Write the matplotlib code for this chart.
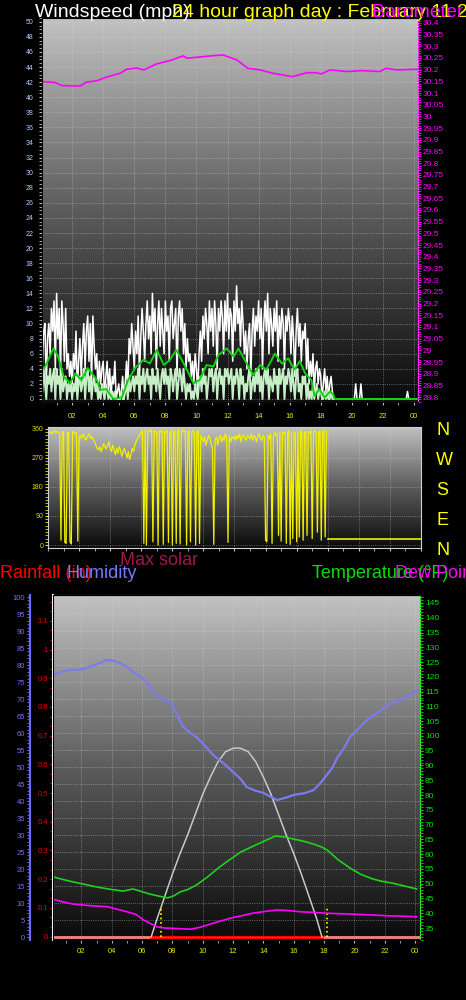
import numpy as np
import matplotlib.pyplot as plt
from matplotlib.ticker import MultipleLocator, FormatStrFormatter
from matplotlib.colors import LinearSegmentedColormap

plt.rcParams['font.family'] = ['Liberation Sans', 'DejaVu Sans']

# ---- data ----
hour_labels = ['02', '04', '06', '08', '10', '12', '14', '16', '18', '20', '22', '00']
hour_ticks = [2, 4, 6, 8, 10, 12, 14, 16, 18, 20, 22, 24]

# wind gusts (mph), 5 minute samples, one row per hour
gust = [
    10, 5, 9, 10, 2, 8, 10, 6, 12, 9, 13, 4,
    14, 8, 12, 3, 13, 10, 5, 12, 4, 6, 3, 5,
    2, 6, 4, 9, 1, 5, 8, 3, 7, 10, 4, 9,
    11, 5, 10, 2, 11, 7, 4, 6, 1, 5, 2, 4,
    5, 0, 3, 5, 1, 4, 0, 3, 2, 5, 0, 1,
    2, 0, 1, 3, 0, 2, 5, 1, 8, 6, 10, 7,
    4, 9, 6, 11, 3, 8, 12, 9, 5, 10, 13, 8,
    11, 6, 14, 9, 12, 4, 10, 13, 7, 12, 9, 6,
    13, 9, 11, 5, 12, 13, 8, 10, 12, 3, 11, 13,
    9, 12, 6, 10, 4, 8, 5, 6, 3, 5, 2, 6,
    4, 1, 6, 9, 5, 11, 8, 12, 10, 6, 13, 9,
    12, 7, 13, 10, 4, 12, 9, 13, 11, 6, 13, 9,
    14, 8, 12, 11, 5, 13, 9, 15, 10, 12, 7, 13,
    10, 6, 9, 4, 8, 10, 3, 9, 12, 7, 11, 9,
    13, 8, 12, 4, 10, 13, 9, 14, 6, 12, 10, 7,
    12, 9, 13, 5, 11, 8, 12, 10, 4, 11, 9, 12,
    10, 6, 11, 8, 3, 9, 12, 7, 10, 5, 9, 8,
    10, 4, 8, 2, 5, 3, 6, 1, 4, 5, 2, 4,
    3, 0, 2, 4, 1, 3, 0, 2, 3, 1, 0, 0,
    0, 0, 0, 0, 0, 0, 0, 0, 0, 0, 0, 0,
    0, 0, 0, 2, 0, 0, 0, 2, 0, 0, 0, 0,
    0, 0, 0, 0, 0, 0, 0, 0, 0, 0, 0, 0,
    0, 0, 0, 0, 0, 0, 0, 0, 0, 0, 0, 0,
    0, 0, 0, 0, 0, 0, 0, 1, 0, 0, 0, 0,
]
# average wind (mph), same samples
avg = [
    3, 1, 4, 2, 0, 3, 2, 4, 1, 3, 4, 0,
    4, 2, 3, 0, 4, 1, 2, 3, 0, 2, 1, 2,
    0, 2, 1, 3, 0, 2, 3, 1, 2, 4, 0, 3,
    4, 1, 3, 0, 2, 3, 1, 2, 0, 1, 0, 2,
    1, 0, 2, 1, 0, 1, 0, 1, 0, 1, 0, 0,
    0, 0, 1, 0, 0, 1, 2, 0, 3, 1, 2, 3,
    1, 3, 2, 4, 0, 3, 2, 4, 1, 3, 4, 2,
    3, 0, 4, 2, 3, 1, 4, 2, 0, 3, 4, 2,
    4, 2, 3, 0, 4, 3, 1, 3, 4, 0, 2, 4,
    3, 1, 4, 2, 0, 2, 1, 2, 0, 1, 0, 2,
    1, 0, 2, 3, 1, 4, 2, 3, 0, 2, 4, 3,
    4, 1, 3, 4, 0, 3, 4, 2, 3, 0, 4, 3,
    4, 2, 3, 4, 0, 3, 2, 4, 3, 0, 4, 2,
    3, 0, 2, 1, 3, 4, 0, 2, 3, 1, 4, 2,
    4, 1, 3, 0, 3, 4, 2, 4, 0, 3, 2, 1,
    4, 2, 3, 0, 4, 2, 3, 4, 0, 3, 2, 4,
    3, 1, 4, 2, 0, 3, 4, 1, 2, 0, 3, 2,
    3, 0, 2, 0, 1, 0, 2, 0, 1, 2, 0, 1,
    1, 0, 0, 1, 0, 1, 0, 0, 1, 0, 0, 0,
    0, 0, 0, 0, 0, 0, 0, 0, 0, 0, 0, 0,
    0, 0, 0, 0, 0, 0, 0, 0, 0, 0, 0, 0,
    0, 0, 0, 0, 0, 0, 0, 0, 0, 0, 0, 0,
    0, 0, 0, 0, 0, 0, 0, 0, 0, 0, 0, 0,
    0, 0, 0, 0, 0, 0, 0, 0, 0, 0, 0, 0,
]
# smoothed wind line
smooth_h = [0.1, 0.26, 0.8, 1.1, 1.45, 1.87, 2.2, 2.6, 3.0, 3.6, 3.8, 4.2, 4.65, 5.2,
            5.6, 6.05, 6.6, 7.0, 7.45, 7.9, 8.3, 8.7, 9.05, 9.5, 9.8, 10.2, 10.65,
            11.1, 11.4, 11.95, 12.4, 12.7, 13.1, 13.65, 14.1, 14.5, 15.05, 15.5,
            15.9, 16.3, 16.65, 17.0, 17.4, 17.6, 17.9, 18.25, 18.6, 18.8, 18.9, 24.3]
smooth = [4.0, 4.3, 6.7, 5.6, 3.0, 2.1, 3.4, 2.5, 4.1, 2.5, 1.2, 1.3, 0.0, 0.2,
          2.5, 4.1, 5.2, 4.7, 6.5, 4.5, 5.2, 6.5, 5.2, 3.4, 2.1, 2.5, 4.5,
          4.3, 5.8, 6.7, 5.6, 6.7, 5.2, 3.2, 4.5, 3.9, 6.0, 4.7,
          5.4, 3.9, 5.0, 3.4, 2.5, 0.4, 1.3, 0.2, 1.0, 0.6, 0.0, 0.0]

# barometer (inHg)
pres_h = [0.13, 0.9, 1.35, 2.5, 2.9, 3.6, 4.2, 5.1, 5.5, 6.15, 6.6, 7.45, 8.3, 9.15,
          9.4, 10.45, 11.1, 11.7, 12.6, 13.3, 14.1, 14.9, 16.2, 17.1, 17.7, 18.05,
          18.6, 19.65, 20.7, 21.8, 22.2, 22.9, 24.2]
pres = [30.149, 30.145, 30.132, 30.130, 30.146, 30.153, 30.168, 30.185, 30.202,
        30.207, 30.199, 30.225, 30.239, 30.259, 30.249, 30.256, 30.260, 30.263,
        30.242, 30.206, 30.199, 30.185, 30.170, 30.187, 30.187, 30.182, 30.199,
        30.192, 30.196, 30.192, 30.206, 30.199, 30.202]

# wind direction (deg), 5 minute samples up to 18h
wdir = [
    340, 348, 352, 345, 350, 355, 348, 352, 350, 345, 15, 350,
    352, 8, 5, 350, 348, 10, 3, 352, 350, 345, 348, 12,
    335, 340, 330, 345, 338, 325, 332, 340, 345, 330, 335, 328,
    320, 310, 300, 295, 305, 290, 300, 315, 305, 298, 310, 320,
    300, 290, 310, 295, 280, 300, 285, 305, 295, 275, 290, 300,
    285, 270, 290, 265, 280, 300, 290, 310, 320, 330, 335, 345,
    350, 355, 5, 358, 0, 352, 355, 350, 358, 10, 355, 350,
    352, 0, 355, 350, 358, 2, 352, 350, 355, 8, 350, 355,
    0, 352, 355, 5, 350, 355, 3, 352, 358, 350, 355, 0,
    352, 355, 10, 350, 355, 348, 0, 350, 355, 5, 340, 330,
    320, 335, 310, 325, 340, 330, 315, 300, 2, 325, 335, 310,
    330, 340, 320, 335, 325, 345, 330, 8, 340, 320, 335, 330,
    338, 325, 340, 330, 345, 320, 335, 342, 330, 325, 340, 335,
    330, 345, 325, 340, 335, 320, 338, 345, 330, 325, 340, 335,
    15, 10, 340, 330, 345, 5, 335, 350, 340, 345, 30, 350,
    12, 350, 345, 352, 5, 348, 355, 2, 350, 20, 352, 345,
    10, 350, 25, 355, 348, 15, 352, 350, 30, 352, 348, 355,
    20, 352, 355, 350, 40, 350, 355, 15, 352, 355, 25, 355,
]
calm_h = [18.0, 24.0]
calm_dir = [18, 18]
compass = ['N', 'W', 'S', 'E', 'N']

# humidity (%)
hum_h = [0.15, 0.7, 1.25, 2.1, 2.9, 3.67, 4.1, 4.55, 5.0, 5.4, 5.9, 6.3, 6.6, 6.86,
         7.4, 7.85, 8.3, 8.7, 9.2, 9.6, 10.2, 10.7, 11.4, 12.0, 12.5, 12.9, 13.5,
         14.0, 14.5, 14.9, 15.5, 16.0, 16.7, 17.3, 17.7, 18.06, 18.5, 18.85, 19.3,
         19.7, 20.2, 20.6, 21.0, 21.5, 22.0, 22.5, 23.0, 23.5, 24.1]
hum = [77.1, 78.0, 78.5, 78.8, 80.0, 81.5, 81.3, 80.6, 79.5, 78.0, 76.5, 75.0, 73.0,
       71.2, 70.0, 69.1, 65.5, 61.8, 60.0, 58.8, 56.0, 53.5, 51.0, 48.5, 46.5, 44.1,
       43.0, 42.4, 41.2, 40.3, 41.0, 41.8, 42.3, 43.2, 45.0, 47.0, 49.5, 52.6, 55.5,
       58.8, 61.0, 62.9, 64.5, 65.9, 67.5, 68.8, 69.8, 70.6, 72.6]

# temperature and dew point (F)
temp_h = [0.15, 0.8, 1.45, 2.2, 3.0, 3.9, 4.75, 5.4, 6.0, 6.5, 7.1, 7.7, 8.1, 8.5,
          9.0, 9.6, 10.3, 11.1, 11.8, 12.5, 13.2, 13.8, 14.3, 14.8, 15.4, 16.0,
          16.7, 17.3, 17.8, 18.2, 18.9, 19.7, 20.4, 21.2, 21.8, 22.5, 23.3, 24.1]
temp = [52.3, 51.4, 50.6, 49.8, 48.9, 48.1, 47.5, 48.2, 47.3, 46.5, 45.8, 45.2, 45.9,
        47.2, 48.0, 49.6, 52.2, 55.6, 58.2, 60.7, 62.4, 63.8, 65.0, 66.1, 65.8, 65.1,
        64.3, 63.4, 62.5, 61.4, 58.2, 55.3, 53.2, 51.6, 50.8, 50.2, 49.2, 48.2]
dew_h = [0.15, 0.8, 1.45, 2.5, 3.7, 4.4, 5.0, 5.6, 6.1, 6.6, 7.0, 7.5, 8.0, 9.2,
         9.8, 10.3, 11.0, 11.8, 12.5, 13.3, 14.1, 14.9, 15.7, 16.4, 17.3, 18.2, 19.2,
         20.2, 21.2, 22.3, 23.2, 24.1]
dew = [44.7, 43.8, 43.1, 42.6, 42.2, 41.3, 40.5, 39.6, 37.7, 36.4, 35.4, 35.0, 34.9,
       34.6, 35.2, 36.0, 37.1, 38.3, 39.1, 40.0, 40.6, 41.1, 40.9, 40.5, 40.3, 40.0,
       39.8, 39.6, 39.4, 39.1, 39.0, 38.8]

# max solar (drawn on humidity scale)
solar_h = [6.6, 7.0, 7.5, 8.0, 8.5, 9.0, 9.5, 10.0, 10.5, 11.0, 11.5, 12.0, 12.26,
           12.5, 13.0, 13.5, 14.0, 14.5, 15.0, 15.5, 16.0, 16.5, 17.0, 17.5, 17.86]
solar = [0, 5.5, 12, 18.5, 24.5, 30, 36, 42, 47, 51.5, 54.5, 55.5, 55.6,
         55.5, 54.5, 51.5, 47, 42, 36, 30, 24.5, 18.5, 12, 5.5, 0]
sun_h = [7.23, 18.17]
rain_h = [0, 24.3]
rain = [0, 0]

# ---- figure ----
W, H = 466, 1000
fig = plt.figure(figsize=(W / 100, H / 100), dpi=100, facecolor='black')

def caja(l, t, r, b):
    return fig.add_axes([l / W, 1 - b / H, (r - l) / W, (b - t) / H])

gris = LinearSegmentedColormap.from_list('gris', ['#0a0a0a', '#5c5c5c', '#c2c2c2'])
grad = np.linspace(0, 1, 256).reshape(-1, 1)

def fondo(ax):
    ax.set_facecolor('black')
    ax.imshow(grad, extent=[0, 1, 0, 1], transform=ax.transAxes, aspect='auto',
              cmap=gris, origin='lower', zorder=0)
    for s in ax.spines.values():
        s.set_color('#d0d0d0')

def estilo_x(ax, labels=True, pad=5):
    ax.set_xticks(hour_ticks)
    ax.xaxis.set_minor_locator(MultipleLocator(1))
    if labels:
        ax.set_xticklabels(hour_labels)
    else:
        ax.set_xticklabels([])
    ax.tick_params(axis='x', which='both', colors='#c0c0c0', labelcolor='#e8e800',
                   labelsize=5.5, length=2, pad=pad)
    ax.grid(True, axis='both', color='#d8d8d8', linestyle=':', linewidth=0.6, alpha=0.55)

# panel 1 : wind speed + barometer
ax1 = caja(42, 18, 418, 402)
fondo(ax1)
ax1.set_xlim(0.06, 24.26)
ax1.set_ylim(-0.4, 50.5)
t5 = np.arange(len(gust)) / 12
ax1.plot(t5, gust, color='white', lw=1.1, zorder=3)
ax1.plot(t5, avg, color='#c6efc6', lw=1.4, zorder=4)
ax1.plot(smooth_h, smooth, color='#10d010', lw=1.4, zorder=5)
ax1.yaxis.set_major_locator(MultipleLocator(2))
ax1.yaxis.set_minor_locator(MultipleLocator(0.5))
ax1.tick_params(axis='y', which='both', colors='#c0c0c0', labelcolor='#b0d0ff',
                labelsize=5, length=2.5)
estilo_x(ax1, pad=6)
ax1b = ax1.twinx()
ax1b.set_ylim(28.779, 30.421)
ax1b.plot(pres_h, pres, color='#ff00ff', lw=1.2)
ax1b.yaxis.set_major_locator(MultipleLocator(0.05))
ax1b.yaxis.set_minor_locator(MultipleLocator(0.01))
ax1b.yaxis.set_major_formatter(FormatStrFormatter('%g'))
ax1b.tick_params(axis='y', which='both', colors='#ff00ff', labelsize=6, length=2.5, pad=1)
ax1b.spines['right'].set_color('#ff00ff')
ax1b.spines['right'].set_linestyle(':')

# panel 2 : wind direction
ax2 = caja(48, 427, 421, 548)
fondo(ax2)
ax2.set_xlim(0, 24.0)
ax2.set_ylim(-9.3, 366)
ax2.plot(np.arange(len(wdir)) / 12, wdir, color='#f0f000', lw=0.9)
ax2.plot(calm_h, calm_dir, color='#f0f000', lw=1.2)
ax2.set_yticks([0, 90, 180, 270, 360])
ax2.yaxis.set_minor_locator(MultipleLocator(10))
ax2.tick_params(axis='y', which='both', colors='#e0e000', labelsize=5, length=2.5, pad=1)
estilo_x(ax2, labels=False)
for i, c in enumerate(compass):
    fig.text(436 / W, 1 - (435 + 30 * i) / H, c, color='#ffff00', fontsize=13)

# panel 3 : rain, humidity, solar, temperature, dew point
ax3 = caja(53, 595, 420, 940)
fondo(ax3)
ax3.set_xlim(0.13, 24.32)
ax3.set_ylim(-0.012, 1.19)
ax3.plot(rain_h, rain, color='#e07878', lw=2.2, zorder=3)
ax3.plot([solar_h[0], solar_h[-1]], [rain[0], rain[0]], color='#ff0000', lw=2.2, zorder=3)
ax3.yaxis.set_major_locator(MultipleLocator(0.1))
ax3.yaxis.set_minor_locator(MultipleLocator(0.1 / 3))
ax3.yaxis.set_major_formatter(FormatStrFormatter('%g'))
ax3.tick_params(axis='y', which='both', colors='#e00000', labelsize=5.5, length=2.5, pad=1)
ax3.spines['left'].set_color('white')
ax3.spines['left'].set_linewidth(1.5)
ax3.spines['bottom'].set_visible(False)
estilo_x(ax3, pad=4)
ax3.grid(False, axis='y')

ax3h = ax3.twinx()
ax3h.set_ylim(-0.88, 100.6)
ax3h.yaxis.set_ticks_position('left')
ax3h.spines['left'].set_position(('axes', -23 / 367))
ax3h.spines['left'].set_visible(True)
ax3h.spines['left'].set_color('#6a6aff')
ax3h.spines['left'].set_linewidth(1.5)
ax3h.spines['right'].set_visible(False)
ax3h.yaxis.set_major_locator(MultipleLocator(5))
ax3h.yaxis.set_minor_locator(MultipleLocator(1))
ax3h.tick_params(axis='y', which='both', colors='#7070ff', labelsize=5.5, length=2.5, pad=1)
ax3h.grid(True, axis='y', color='#d8d8d8', linestyle=':', linewidth=0.6, alpha=0.55)
ax3h.plot(solar_h, solar, color='#c8c8c8', lw=1.1)
ax3h.plot(hum_h, hum, color='#7b7bf0', lw=1.6)
ax3h.vlines(sun_h, 0, 9.1, colors='#ffff00', linestyles=':', lw=1.2)

ax3t = ax3.twinx()
ax3t.set_ylim(30.94, 147.7)
ax3t.plot(temp_h, temp, color='#20d020', lw=1.2)
ax3t.plot(dew_h, dew, color='#ff00ff', lw=1.2)
ax3t.yaxis.set_major_locator(MultipleLocator(5))
ax3t.yaxis.set_minor_locator(MultipleLocator(1))
ax3t.tick_params(axis='y', which='both', colors='#00e000', labelsize=6, length=2.5, pad=1)
ax3t.spines['right'].set_color('#00e000')
ax3t.spines['right'].set_linestyle(':')

# headings
fig.text(35 / W, 1 - 17 / H, 'Windspeed (mph)', color='white', fontsize=14)
fig.text(172 / W, 1 - 17 / H, '24 hour graph day : February 11 20', color='#ffff00', fontsize=14)
fig.text(372 / W, 1 - 17 / H, 'Barometer (in)', color='#ff00ff', fontsize=14)
fig.text(120 / W, 1 - 565 / H, 'Max solar', color='#a0184a', fontsize=13)
fig.text(0, 1 - 578 / H, 'Rainfall (in)', color='#ff0000', fontsize=13)
fig.text(67 / W, 1 - 578 / H, 'Humidity', color='#7878ff', fontsize=13)
fig.text(312 / W, 1 - 578 / H, 'Temperature (°F)', color='#00e000', fontsize=13)
fig.text(395 / W, 1 - 578 / H, 'Dew Point', color='#ff00ff', fontsize=13)

fig.savefig('out.png', dpi=100, facecolor='black')
